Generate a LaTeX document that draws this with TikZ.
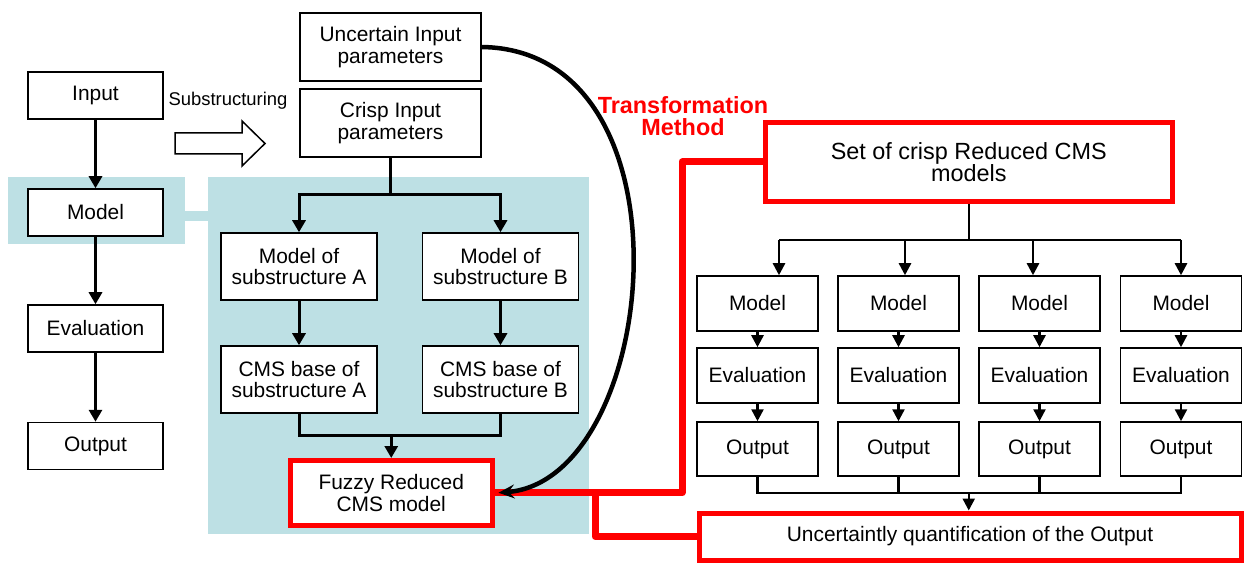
\documentclass[tikz,border=0pt]{standalone}
\usepackage{fontspec}
\setmainfont{Liberation Sans}
\usetikzlibrary{arrows.meta,calc}
\definecolor{bluebg}{RGB}{189,224,228}
\definecolor{fred}{RGB}{255,0,0}
\begin{document}
\begin{tikzpicture}[x=1bp,y=-1bp,
  box/.style={draw=black,line width=1.5bp,fill=white,inner sep=0pt,align=center,font=\fontsize{21}{22}\selectfont},
  redbox/.style={box,draw=fred,line width=5bp},
  arr/.style={line width=3bp,-{Triangle[width=13bp,length=12bp]}},
  ln/.style={line width=3bp},
  sarr/.style={line width=2.5bp,-{Triangle[width=12bp,length=12bp]}},
  sln/.style={line width=2.5bp},
  redln/.style={draw=fred,line width=7bp,line join=round},
  lbox/.style={box,minimum width=135bp,minimum height=47bp},
  mbox/.style={box,minimum width=156bp,minimum height=67bp},
  gbox/.style={box,minimum width=121bp,minimum height=55bp}
]
\useasboundingbox (0,0) rectangle (1247,566);
% blue backgrounds
\fill[bluebg] (8,177) rectangle (185,244);
\fill[bluebg] (184,211) rectangle (209,221);
\fill[bluebg] (208,177) rectangle (589,534);

% left column
\node[lbox] (in) at (95.5,95.5) {Input};
\node[lbox] (mod) at (95.5,212.5) {Model};
\node[lbox] (ev) at (95.5,328.5) {Evaluation};
\node[lbox] (out) at (95.5,446) {Output};
\draw[arr] (in.south) -- (mod.north);
\draw[arr] (mod.south) -- (ev.north);
\draw[arr] (ev.south) -- (out.north);

% substructuring
\node[font=\fontsize{18.5}{20}\selectfont] (sublbl) at (228,101) {Substructuring};
\draw[line width=1.5bp,fill=white] (175,133) -- (242,133) -- (242,121) -- (265,143.5) -- (242,166) -- (242,154) -- (175,154) -- cycle;

% middle
\node[box,minimum width=181bp,minimum height=68bp] (unc) at (390.5,47) {Uncertain Input\\parameters};
\node[box,minimum width=181bp,minimum height=68bp] (crisp) at (390.5,123) {Crisp Input\\parameters};
\node[mbox] (mA) at (299,266.5) {Model of\\substructure A};
\node[mbox] (mB) at (500.5,266.5) {Model of\\substructure B};
\node[mbox] (cA) at (299,379.5) {CMS base of\\substructure A};
\node[mbox] (cB) at (500.5,379.5) {CMS base of\\substructure B};
\node[redbox,minimum width=201.5bp,minimum height=64.5bp] (fuzzy) at (391.25,492.75) {Fuzzy Reduced\\CMS model};

\coordinate (spy) at (0,195);
\coordinate (jy) at (0,435);
\draw[ln] (crisp.south) -- (crisp.south |- spy);
\draw[arr] (crisp.south |- spy) -| (mA.north);
\draw[arr] (crisp.south |- spy) -| (mB.north);
\draw[arr] (mA.south) -- (cA.north);
\draw[arr] (mB.south) -- (cB.north);
\draw[ln] (cA.south) |- (cB.south |- jy) -- (cB.south);
\draw[arr] (fuzzy.north |- jy) -- (fuzzy.north);

% right side
\node[text=fred,font=\bfseries\fontsize{23.5}{22.5}\selectfont,align=center] (tm) at (683,116) {Transformation\\Method};
\node[redbox,font=\fontsize{23.5}{22}\selectfont,minimum width=406.5bp,minimum height=79bp] (set) at (968.75,162) {Set of crisp Reduced CMS\\models};

\foreach \i/\x in {1/757.5,2/898.5,3/1039.5,4/1181}{
  \node[gbox] (m\i) at (\x,303.5) {Model};
  \node[gbox] (e\i) at (\x,375.5) {Evaluation};
  \node[gbox,minimum height=54bp] (o\i) at (\x,449) {Output};
  \draw[sarr] (m\i.south) -- (e\i.north);
  \draw[sarr] (e\i.south) -- (o\i.north);
}
\node[redbox,minimum width=542bp,minimum height=47bp] (uq) at (970,536.5) {Uncertaintly quantification of the Output};

\coordinate (ty) at (0,240);
\coordinate (a1) at (779,240);
\coordinate (a2) at (905,240);
\coordinate (a3) at (1033,240);
\coordinate (a4) at (1181,240);
\draw[sln] (set.south) -- (set.south |- ty);
\draw[sln] (a1) -- (a4);
\foreach \i in {1,2,3,4}{
  \draw[sarr] (a\i) -- (a\i |- m\i.north);
}
\coordinate (by) at (0,493);
\draw[sln] (o1.south) |- (o4.south |- by) -- (o4.south);
\draw[sln] (o2.south) -- (o2.south |- by);
\draw[sln] (o3.south) -- (o3.south |- by);
\draw[sarr] (set.south |- by) -- (set.south |- uq.north);

% red connectors
\coordinate (rx) at (682,0);
\coordinate (jx) at (595,0);
\draw[redln] (set.west) -| (rx |- fuzzy.east) -- (fuzzy.east);
\draw[redln] (jx |- fuzzy.east) |- (uq.west);

% curved arrow
\draw[line width=4.5bp,-{Stealth[length=16bp,width=14bp,inset=6bp]}] (unc.east) .. controls (700,50) and (660,480) .. ([xshift=4bp]fuzzy.east);
\end{tikzpicture}
\end{document}
